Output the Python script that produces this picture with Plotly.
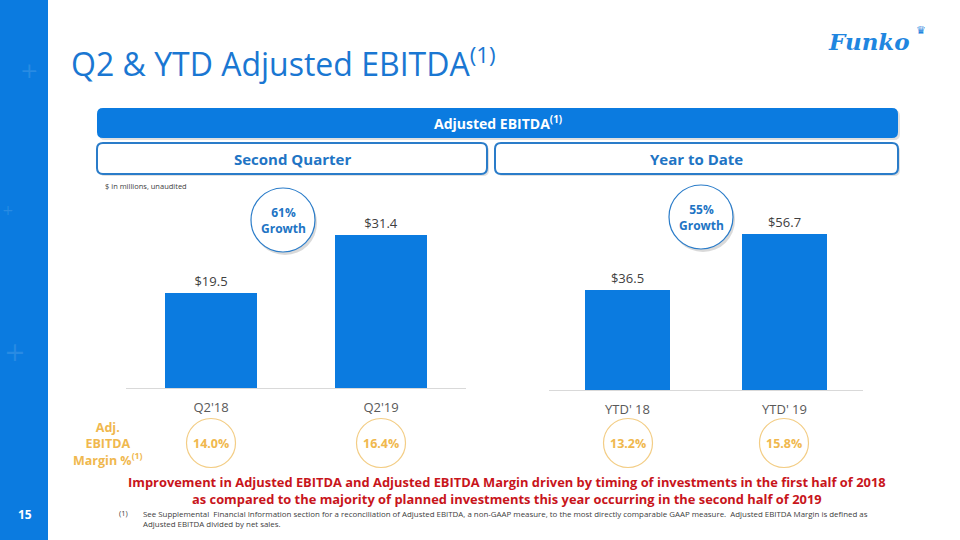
import plotly.graph_objects as go

W, H = 960, 540

# ---- data ----
q_categories = ["Q2'18", "Q2'19"]
q_values = [19.5, 31.4]
ytd_categories = ["YTD' 18", "YTD' 19"]
ytd_values = [36.5, 56.7]
q_margins = ["14.0%", "16.4%"]
ytd_margins = ["13.2%", "15.8%"]
q_growth = "61%"
ytd_growth = "55%"

BLUE = "#0b7be0"
TBLUE = "#1a77d2"
GOLD = "#f0b84e"
GOLD_LINE = "#f3cd85"
RED = "#c8151b"
FONT = "Open Sans"


def px(x):
    return x / W


def py(y):
    return 1 - y / H


fig = go.Figure()

fig.add_trace(go.Bar(
    x=q_categories, y=q_values, xaxis="x", yaxis="y",
    marker=dict(color=BLUE, line=dict(width=0)), width=0.54,
    texttemplate="$%{y:.1f}", textposition="outside", cliponaxis=False,
    textfont=dict(family=FONT, size=13, color="#404040"), showlegend=False,
    hoverinfo="skip"))
fig.add_trace(go.Bar(
    x=ytd_categories, y=ytd_values, xaxis="x2", yaxis="y2",
    marker=dict(color=BLUE, line=dict(width=0)), width=0.54,
    texttemplate="$%{y:.1f}", textposition="outside", cliponaxis=False,
    textfont=dict(family=FONT, size=13, color="#404040"), showlegend=False,
    hoverinfo="skip"))

base_l, top_l = 388, 200
base_r, top_r = 390, 200
axis_common = dict(showline=True, linecolor="#d9d9d9", linewidth=1, ticks="outside",
                   ticklen=7, tickcolor="rgba(0,0,0,0)", fixedrange=True,
                   tickfont=dict(family=FONT, size=13, color="#595959"), showgrid=False,
                   zeroline=False)
yaxis_common = dict(visible=False, showgrid=False, zeroline=False, fixedrange=True)

fig.update_layout(
    width=W, height=H, margin=dict(l=0, r=0, t=0, b=0),
    paper_bgcolor="white", plot_bgcolor="rgba(0,0,0,0)",
    bargap=0,
    xaxis=dict(domain=[px(126), px(466)], range=[-0.5, 1.5], **axis_common),
    yaxis=dict(domain=[py(base_l), py(top_l)], range=[0, (base_l - top_l) / 4.87], **yaxis_common),
    xaxis2=dict(domain=[px(549), px(863)], range=[-0.5, 1.5], anchor="y2", **axis_common),
    yaxis2=dict(domain=[py(base_r), py(top_r)], range=[0, (base_r - top_r) / 2.75], anchor="x2",
                **yaxis_common),
)

shapes = []
annotations = []


def ann(x, y, text, size, color, family=FONT, xanchor="center", align="center"):
    annotations.append(dict(x=px(x), y=py(y), xref="paper", yref="paper", showarrow=False,
                            xanchor=xanchor, yanchor="middle", align=align, text=text,
                            font=dict(family=family, size=size, color=color)))


# left strip
shapes.append(dict(type="rect", xref="paper", yref="paper", x0=0, x1=px(48), y0=0, y1=1,
                   fillcolor=BLUE, line=dict(width=0), layer="below"))


def rrect(x0, y0, x1, y1, r):
    X = lambda v: f"{px(v):.5f}"
    Y = lambda v: f"{py(v):.5f}"
    return (f"M {X(x0 + r)} {Y(y0)} L {X(x1 - r)} {Y(y0)} Q {X(x1)} {Y(y0)} {X(x1)} {Y(y0 + r)} "
            f"L {X(x1)} {Y(y1 - r)} Q {X(x1)} {Y(y1)} {X(x1 - r)} {Y(y1)} "
            f"L {X(x0 + r)} {Y(y1)} Q {X(x0)} {Y(y1)} {X(x0)} {Y(y1 - r)} "
            f"L {X(x0)} {Y(y0 + r)} Q {X(x0)} {Y(y0)} {X(x0 + r)} {Y(y0)} Z")


# header bar with shadow
shapes.append(dict(type="path", xref="paper", yref="paper", path=rrect(99, 110, 900, 140, 6),
                   fillcolor="rgba(0,0,0,0.12)", line=dict(width=0), layer="below"))
shapes.append(dict(type="path", xref="paper", yref="paper", path=rrect(97, 108, 898, 138, 6),
                   fillcolor=BLUE, line=dict(width=0), layer="below"))
ann(498, 123, "<b>Adjusted EBITDA<sup>(1)</sup></b>", 14, "white")

for (x0, x1, label) in [(97, 487, "Second Quarter"), (495, 898, "Year to Date")]:
    shapes.append(dict(type="path", xref="paper", yref="paper", path=rrect(x0 + 2, 145, x1 + 2, 176, 6),
                       fillcolor="rgba(0,0,0,0.12)", line=dict(width=0), layer="below"))
    shapes.append(dict(type="path", xref="paper", yref="paper", path=rrect(x0, 143, x1, 174, 6),
                       fillcolor="white", line=dict(width=2, color="#2a7cc9"), layer="below"))
    ann((x0 + x1) / 2, 158.5, f"<b>{label}</b>", 15, "#2174c4")

ann(103, 186, "$ in millions, unaudited", 7.5, "#404040", xanchor="left")


def circle(cx, cy, r, **kw):
    return dict(type="circle", xref="paper", yref="paper", x0=px(cx - r), x1=px(cx + r),
                y0=py(cy + r), y1=py(cy - r), **kw)


# growth bubbles
for (cx, cy, g) in [(283, 220, q_growth), (701, 217, ytd_growth)]:
    shapes.append(circle(cx + 2, cy + 3, 32, fillcolor="rgba(0,0,0,0.15)", line=dict(width=0)))
    shapes.append(circle(cx, cy, 32, fillcolor="white", line=dict(width=1.2, color="#2a7cc9")))
    ann(cx, cy, f"<b>{g}<br>Growth</b>", 12, "#2174c4")

# margin circles
margin_pos = [(211, q_margins[0]), (381, q_margins[1]), (628, ytd_margins[0]), (784, ytd_margins[1])]
for cx, m in margin_pos:
    shapes.append(circle(cx, 443, 24.5, fillcolor="white", line=dict(width=1.2, color=GOLD_LINE)))
    ann(cx, 443, f"<b>{m}</b>", 12.5, GOLD)

ann(108, 444, "<b>Adj.<br>EBITDA<br>Margin %<sup>(1)</sup></b>", 12.5, GOLD)

# title
ann(69, 62, "Q2 & YTD Adjusted EBITDA<sup>(1)</sup>", 32, TBLUE, xanchor="left")

# logo
ann(869, 42, "<b><i>Funko</i></b>", 23, "#1f86e0", family="DejaVu Serif")
ann(921, 30, "♛", 11, "#1f86e0", family="DejaVu Sans")

# red conclusion
ann(507, 490,
    "<b>Improvement in Adjusted EBITDA and Adjusted EBITDA Margin driven by timing of investments in the first half of 2018"
    "<br>as compared to the majority of planned investments this year occurring in the second half of 2019</b>",
    12.9, RED)

# footnote
ann(117, 513, "(1)", 7.5, "#404040", xanchor="left")
ann(141, 518.5,
    "See Supplemental  Financial Information section for a reconciliation of Adjusted EBITDA, a non-GAAP measure, to the most directly comparable GAAP measure.  Adjusted EBITDA Margin is defined as"
    "<br>Adjusted EBITDA divided by net sales.",
    7.9, "#404040", xanchor="left", align="left")

# page number
ann(25, 514, "<b>15</b>", 12, "white")

# faint decorations on strip
for (cx, cy, s) in [(29, 70, 22), (15, 352, 26), (8, 210, 14)]:
    ann(cx, cy, "+", s, "rgba(255,255,255,0.12)", family="DejaVu Sans")

fig.update_layout(shapes=shapes, annotations=annotations)
fig.write_html("out.html")
